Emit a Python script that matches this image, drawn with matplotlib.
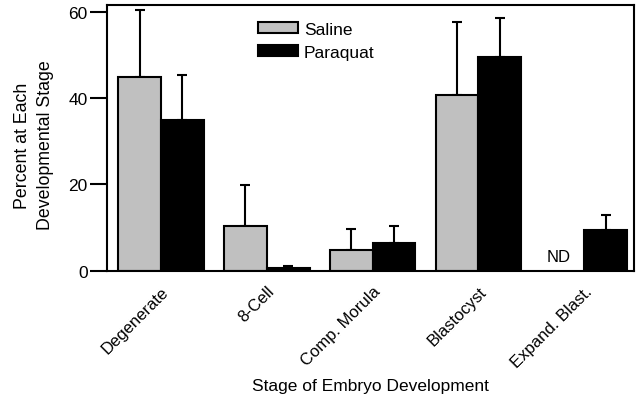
import numpy as np
import matplotlib.pyplot as plt
import matplotlib.transforms as mtransforms

plt.rcParams['font.family'] = ['Liberation Sans', 'DejaVu Sans']

stages = ['Degenerate', '8-Cell', 'Comp. Morula', 'Blastocyst', 'Expand. Blast.']
saline = [44.8, 10.3, 4.8, 40.7, np.nan]
saline_err = [15.6, 9.6, 4.9, 16.9, np.nan]
paraquat = [34.9, 0.55, 6.4, 49.5, 9.5]
paraquat_err = [10.5, 0.65, 4.0, 9.1, 3.4]

x = np.arange(len(stages))
w = 0.405

fig = plt.figure(figsize=(6.41, 4.02), dpi=100)
ax = fig.add_axes([0.167, 0.324, 0.822, 0.661])

ax.bar(x - w/2, saline, w, color='#c0c0c0', edgecolor='black', linewidth=1.5,
       label='Saline', zorder=2)
ax.bar(x + w/2, paraquat, w, color='black', edgecolor='black', linewidth=1.5,
       label='Paraquat', zorder=2)

ax.errorbar(x - w/2, saline, yerr=[np.zeros(5), saline_err], fmt='none',
            ecolor='black', elinewidth=1.5, capsize=3.5, capthick=1.5, zorder=1)
ax.errorbar(x + w/2, paraquat, yerr=[np.zeros(5), paraquat_err], fmt='none',
            ecolor='black', elinewidth=1.5, capsize=3.5, capthick=1.5, zorder=1)

ax.text(4 - w/2 - 0.04, 3.2, 'ND', ha='center', va='center', fontsize=12)

ax.set_xlim(-0.51, 4.47)
ax.set_ylim(0, 61.5)
ax.set_yticks([0, 20, 40, 60])
ax.set_xticks(x)
ax.set_xticklabels(stages, rotation=45, ha='right', rotation_mode='anchor', fontsize=12)
shift = mtransforms.ScaledTranslation(-6/100, 0, fig.dpi_scale_trans)
for lab in ax.get_xticklabels():
    lab.set_transform(lab.get_transform() + shift)
ax.tick_params(axis='x', length=0, pad=9)
ax.tick_params(axis='y', length=12.5, width=1.5, labelsize=12.5, pad=1.5)
for s in ax.spines.values():
    s.set_linewidth(1.5)

ax.set_ylabel('Percent at Each\nDevelopmental Stage', fontsize=12.8, linespacing=1.45,
              va='center', ha='center')
ax.yaxis.set_label_coords(-0.138, 0.475)
ax.set_xlabel('Stage of Embryo Development', fontsize=12.5, labelpad=6)

ax.legend(loc='upper left', bbox_to_anchor=(258/641, 1 - 23/402),
          bbox_transform=fig.transFigure, frameon=False, borderpad=0,
          borderaxespad=0, fontsize=12.5, handlelength=2.3, handleheight=0.6,
          labelspacing=0.45, handletextpad=0.35)

fig.savefig('out.png', dpi=100)
